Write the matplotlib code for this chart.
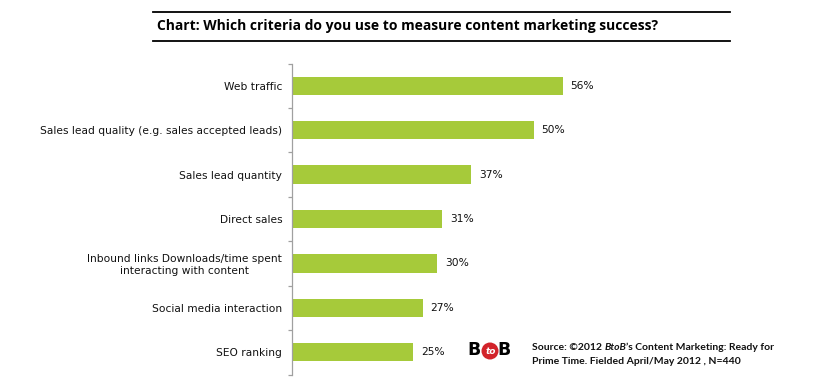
import matplotlib
matplotlib.use("Agg")
import matplotlib.pyplot as plt
from matplotlib.patches import Ellipse

# survey answers, top to bottom
categories = [
    "Web traffic",
    "Sales lead quality (e.g. sales accepted leads)",
    "Sales lead quantity",
    "Direct sales",
    "Inbound links Downloads/time spent\ninteracting with content",
    "Social media interaction",
    "SEO ranking",
]
values = [56, 50, 37, 31, 30, 27, 25]
value_labels = ["56%", "50%", "37%", "31%", "30%", "27%", "25%"]

title = "Chart: Which criteria do you use to measure content marketing success?"

bar_color = "#A6CA3A"
label_font = "DejaVu Sans"
head_font = "Open Sans"
src_font = "Lato"

W, H = 818, 380
fig = plt.figure(figsize=(W / 100, H / 100), dpi=100)
fig.patch.set_facecolor("white")

ax = fig.add_axes([292 / W, 1 - 374.5 / H, 290 / W, (374.5 - 63.5) / H])

ypos = list(range(len(categories)))
ax.barh(ypos, values, height=0.41, color=bar_color, zorder=2)
ax.set_ylim(len(categories) - 0.5, -0.5)
ax.set_xlim(0, 60)

for y, v, lab in zip(ypos, values, value_labels):
    ax.annotate(lab, xy=(v, y), xytext=(8, 0), textcoords="offset pixels",
                ha="left", va="center", fontsize=7.7, family=label_font, color="#111111")

# category labels sit between the tick marks
ax.set_yticks(ypos)
ax.set_yticklabels(categories, fontsize=7.7, family=label_font, color="#111111",
                   multialignment="center")
ax.tick_params(axis="y", which="major", length=0, pad=7)
ax.set_yticks([i + 0.5 for i in range(-1, len(categories))], minor=True)
ax.tick_params(axis="y", which="minor", length=3, width=0.9, color="#A0A0A0")
ax.set_xticks([])

for side in ["top", "right", "bottom"]:
    ax.spines[side].set_visible(False)
ax.spines["left"].set_color("#A0A0A0")
ax.spines["left"].set_linewidth(0.9)

# header block with rules above and below
fig.add_artist(plt.Line2D([153 / W, 730 / W], [1 - 12.3 / H] * 2, color="black", lw=1.3))
fig.add_artist(plt.Line2D([153 / W, 730 / W], [1 - 40.7 / H] * 2, color="black", lw=1.3))
fig.text(157 / W, 1 - 26 / H, title, ha="left", va="center",
         fontsize=10.0, fontweight="bold", family=head_font, color="black")

# source note
src_kw = dict(fontsize=7.5, fontweight="bold", family=src_font, color="#111111")
t1 = fig.text(532 / W, 1 - 347 / H, "Source: \u00a92012 ", ha="left", va="center", **src_kw)
t2 = ax.annotate("BtoB", xy=(1, 0), xycoords=t1, ha="left", va="bottom",
                 fontstyle="italic", **src_kw)
ax.annotate("\u2019s Content Marketing: Ready for", xy=(1, 0), xycoords=t2,
            ha="left", va="bottom", **src_kw)
fig.text(532 / W, 1 - 362 / H, "Prime Time. Fielded April/May 2012 , N=440",
         ha="left", va="center", **src_kw)

# BtoB logo
logo_y = 1 - 350 / H
fig.text(467 / W, logo_y, "B", ha="left", va="center", fontsize=12.5,
         fontweight="heavy", family="DejaVu Sans", color="black")
fig.add_artist(Ellipse((490 / W, 1 - 351 / H), 17 / W, 17 / H, transform=fig.transFigure,
                       facecolor="#D2232A", edgecolor="none", zorder=5))
fig.text(490.5 / W, 1 - 351 / H, "to", ha="center", va="center", fontsize=6.5,
         fontweight="bold", fontstyle="italic", family="DejaVu Sans", color="white", zorder=6)
fig.text(497.5 / W, logo_y, "B", ha="left", va="center", fontsize=12.5,
         fontweight="heavy", family="DejaVu Sans", color="black")

fig.savefig("out.png", dpi=100)
